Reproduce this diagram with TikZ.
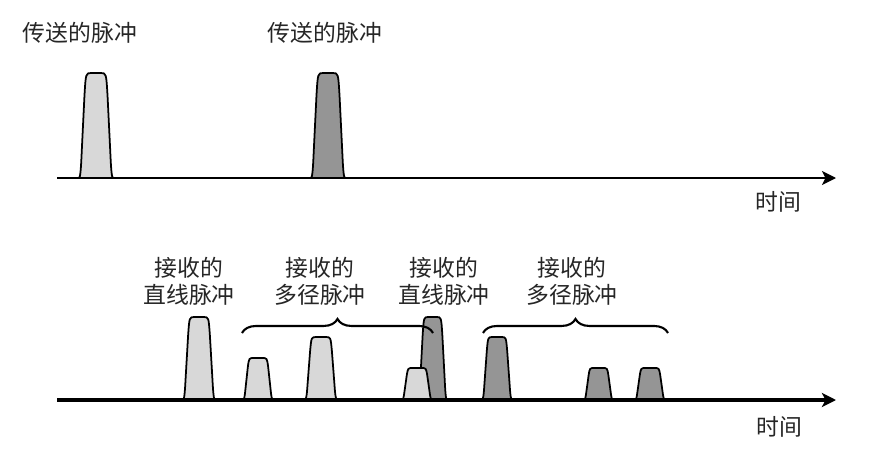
\documentclass[tikz,border=0pt]{standalone}
\usepackage{fontspec}
\newfontfamily\cjk{Noto Sans CJK SC}
\usepackage{tikz}
\usetikzlibrary{arrows.meta,decorations.pathreplacing}

\definecolor{lightpulse}{HTML}{D8D8D8}
\definecolor{darkpulse}{HTML}{959595}

% pulse: left end, right end, top, baseline, fill
\newcommand{\pulseshape}[5]{%
  \pgfmathsetmacro{\plw}{#2-#1}\pgfmathsetmacro{\plh}{#4-#3}%
  \draw[pulse, fill=#5] (#1,#4)
    .. controls ({#1+0.04*\plw},#4) and ({#1+0.06*\plw},{#4-0.1*\plh}) .. ({#1+0.08*\plw},{#4-0.25*\plh})
    -- ({#1+0.16*\plw},{#3+0.22*\plh})
    .. controls ({#1+0.2*\plw},#3) .. ({#1+0.36*\plw},#3) -- ({#2-0.36*\plw},#3)
    .. controls ({#2-0.2*\plw},#3) .. ({#2-0.16*\plw},{#3+0.22*\plh})
    -- ({#2-0.08*\plw},{#4-0.25*\plh})
    .. controls ({#2-0.06*\plw},{#4-0.1*\plh}) and ({#2-0.04*\plw},#4) .. (#2,#4);
}

\begin{document}
\begin{tikzpicture}[x=0.02cm, y=-0.02cm,
    label/.style={font=\cjk\fontsize{13}{15.5}\selectfont, text=black!85, align=center, inner sep=0pt},
    axis/.style={-{Stealth[length=8pt,width=8pt,inset=2pt]}, line width=1.2pt},
    pulse/.style={draw, line width=1pt, line join=round},
    bracket/.style={decorate, decoration={brace, amplitude=8pt}, line width=1.2pt}
]
\useasboundingbox (0,0) rectangle (889,453);

% transmitted
\coordinate (t0) at (57,178);
\coordinate (t1) at (836,178);
\pulseshape{79}{113}{73}{178}{lightpulse}
\pulseshape{311}{345}{73}{178}{darkpulse}
\draw[axis] (t0) -- (t1);

\node[label] (tx1) at (80,33) {传送的脉冲};
\node[label] (tx2) at (325,33) {传送的脉冲};
\node[label] (time1) at (778,202) {时间};

% received
\coordinate (r0) at (57,400);
\coordinate (r1) at (836,400);
\pulseshape{183}{215}{317}{400}{lightpulse}
\pulseshape{243}{273}{358}{400}{lightpulse}
\pulseshape{305}{337}{337}{400}{lightpulse}
\pulseshape{418}{447}{317}{400}{darkpulse}
\pulseshape{402}{432}{368}{400}{lightpulse}
\pulseshape{482}{512}{337}{400}{darkpulse}
\pulseshape{584}{613}{368}{400}{darkpulse}
\pulseshape{635}{665}{368}{400}{darkpulse}
\draw[axis, line width=1.8pt] (r0) -- (r1);

\coordinate (b1) at (242,333);
\coordinate (b2) at (433,333);
\coordinate (b3) at (483,333);
\coordinate (b4) at (668,333);
\draw[bracket] (b1) -- (b2);
\draw[bracket] (b3) -- (b4);

\node[label] (rx1) at (189,281) {接收的\\直线脉冲};
\node[label] (rx2) at (320,281) {接收的\\多径脉冲};
\node[label] (rx3) at (444,281) {接收的\\直线脉冲};
\node[label] (rx4) at (572,281) {接收的\\多径脉冲};
\node[label] (time2) at (779,427) {时间};
\end{tikzpicture}
\end{document}
